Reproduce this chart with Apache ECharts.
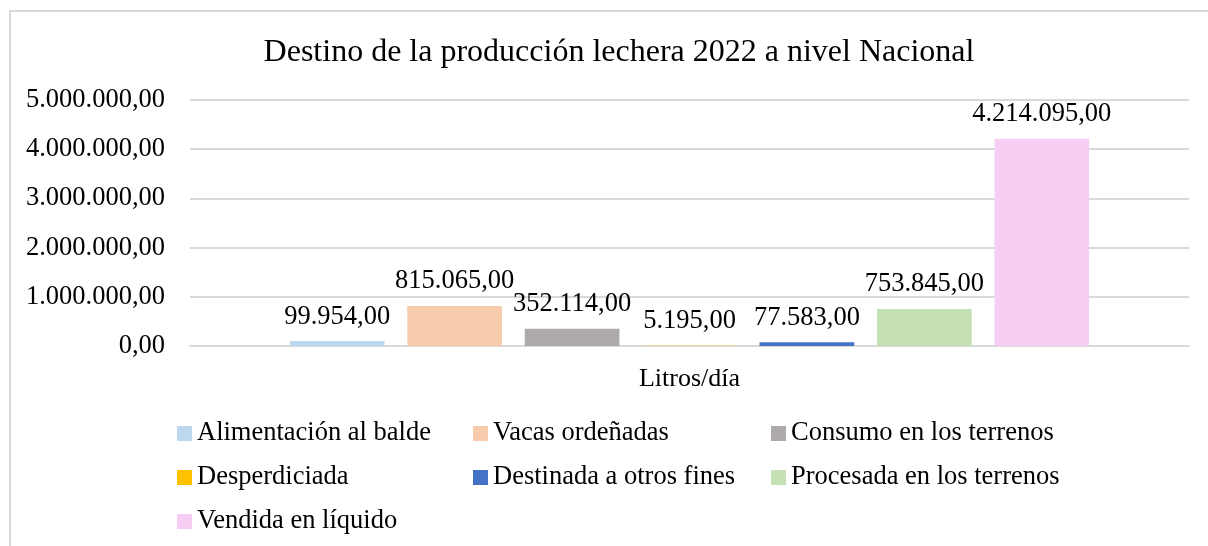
<!DOCTYPE html>
<html>
<head>
<meta charset="utf-8">
<script src="https://cdn.jsdelivr.net/npm/echarts@6/dist/echarts.min.js"></script>
<style>
html,body{margin:0;padding:0;background:#fff;}
#frame{position:absolute;left:9px;top:10px;width:1199px;height:536px;border-left:2px solid #d9d9d9;border-top:2px solid #d9d9d9;}
#chart{position:absolute;left:0;top:0;width:1208px;height:546px;}
</style>
</head>
<body>
<div id="frame"></div>
<div id="chart"></div>
<script>
var titulo = 'Destino de la producción lechera 2022 a nivel Nacional';
var categorias = ['Litros/día'];
var nombres = ['Alimentación al balde', 'Vacas ordeñadas', 'Consumo en los terrenos',
    'Desperdiciada', 'Destinada a otros fines', 'Procesada en los terrenos', 'Vendida en líquido'];
var valores = [99954, 815065, 352114, 5195, 77583, 753845, 4214095];
var colores = ['#BDD7EE', '#F8CBAD', '#AEAAAA', '#FFC000', '#4472C4', '#C5E0B4', '#F6CEF3'];
var columnasLeyenda = [[0, 3, 6], [1, 4], [2, 5]];
var leyendaX = [172, 468, 766];

var fuente = "'Liberation Serif', 'Times New Roman', serif";

function formato(v) {
    var s = Math.round(v).toString();
    s = s.replace(/\B(?=(\d{3})+(?!\d))/g, '.');
    return s + ',00';
}

var series = [];
for (var i = 0; i < nombres.length; i++) {
    series.push({
        name: nombres[i],
        type: 'bar',
        data: [valores[i]],
        barGap: '24%',
        barCategoryGap: '20%',
        itemStyle: { color: colores[i] },
        label: {
            show: true,
            position: 'top',
            distance: 11,
            fontFamily: fuente,
            fontSize: 26.5,
            color: '#000',
            formatter: function (p) { return formato(p.value); }
        }
    });
}

var leyendas = [];
for (var c = 0; c < columnasLeyenda.length; c++) {
    leyendas.push({
        orient: 'vertical',
        left: leyendaX[c],
        top: 415,
        itemWidth: 15,
        itemHeight: 15,
        itemGap: 17,
        icon: 'rect',
        selectedMode: false,
        data: columnasLeyenda[c].map(function (k) { return nombres[k]; }),
        textStyle: { fontFamily: fuente, fontSize: 26.5, color: '#000', lineHeight: 27 }
    });
}

var myChart = echarts.init(document.getElementById('chart'));
var option = {
    animation: false,
    title: {
        text: titulo,
        left: 614,
        top: 32,
        textAlign: 'center',
        textStyle: { fontFamily: fuente, fontSize: 32, fontWeight: 'normal', color: '#000' }
    },
    legend: leyendas,
    grid: { left: 190, right: 19, top: 100, bottom: 200 },
    xAxis: {
        type: 'category',
        data: categorias,
        axisLine: { lineStyle: { color: '#d9d9d9', width: 2 } },
        axisTick: { show: false },
        axisLabel: { fontFamily: fuente, fontSize: 26, color: '#000', margin: 20 }
    },
    yAxis: {
        type: 'value',
        min: 0,
        max: 5000000,
        interval: 1000000,
        axisLine: { show: false },
        axisTick: { show: false },
        splitLine: { lineStyle: { color: '#d9d9d9', width: 2 } },
        axisLabel: {
            fontFamily: fuente,
            fontSize: 26.5,
            color: '#000',
            margin: 25,
            formatter: formato
        }
    },
    series: series
};
myChart.setOption(option);
</script>
</body>
</html>
